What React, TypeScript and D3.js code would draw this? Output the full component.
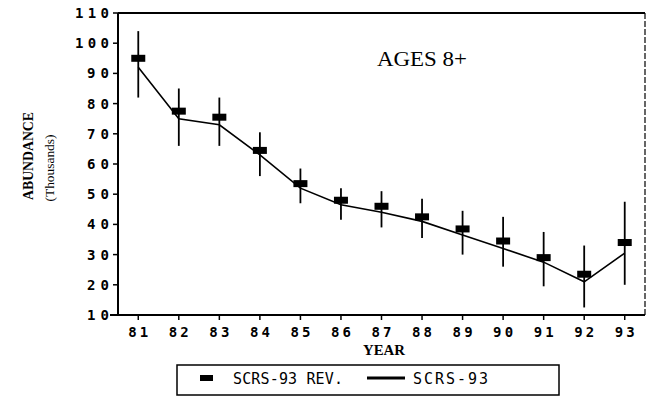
import React from "react";
import * as d3 from "d3";

const years = [81, 82, 83, 84, 85, 86, 87, 88, 89, 90, 91, 92, 93];
const revEstimate = [95, 77.5, 75.5, 64.5, 53.5, 48, 46, 42.5, 38.5, 34.5, 29, 23.5, 34];
const revLow = [82, 66, 66, 56, 47, 41.5, 39, 35.5, 30, 26, 19.5, 12.5, 20];
const revHigh = [104, 85, 82, 70.5, 58.5, 52, 51, 48.5, 44.5, 42.5, 37.5, 33, 47.5];
const scrs93 = [92, 75, 73, 63, 52, 46.5, 44, 41, 36.5, 32, 27.5, 21, 30.5];
const yTicks = [10, 20, 30, 40, 50, 60, 70, 80, 90, 100, 110];

const W = 649;
const H = 397;
const left = 118, right = 645, top = 13, bottom = 315;

export default function App() {
  const x = d3.scaleLinear().domain([80.5, 93.5]).range([left, right]);
  const y = d3.scaleLinear().domain([10, 110]).range([bottom, top]);
  const line = d3
    .line<number>()
    .x((_, i) => x(years[i]))
    .y((d) => y(d));
  const mono = "'DejaVu Sans Mono', monospace";
  const serif = "'Liberation Serif', 'DejaVu Serif', serif";
  return (
    <svg
      width={W}
      height={H}
      style={{ position: "absolute", left: 0, top: 0, background: "#fff" }}
    >
      <rect x={0} y={0} width={W} height={H} fill="#fff" />
      {/* frame */}
      <line x1={left} y1={top} x2={right} y2={top} stroke="#000" strokeWidth={2} />
      <line x1={right} y1={top} x2={right} y2={bottom} stroke="#000" strokeWidth={1.2} strokeDasharray="6 2" />
      <line x1={left} y1={top} x2={left} y2={bottom} stroke="#000" strokeWidth={2} />
      <line x1={left - 8} y1={bottom} x2={right} y2={bottom} stroke="#000" strokeWidth={2} />
      {/* y ticks */}
      {yTicks.map((t) => (
        <g key={t}>
          <line x1={left - 5} x2={left} y1={y(t)} y2={y(t)} stroke="#000" strokeWidth={1.5} />
          <text
            x={109}
            y={y(t) + 5}
            textAnchor="end"
            fontFamily={mono}
            fontWeight="bold"
            fontSize={14}
            textLength={t >= 100 ? 34 : 22}
            lengthAdjust="spacing"
          >
            {t}
          </text>
        </g>
      ))}
      {/* x ticks */}
      {years.map((yr) => (
        <g key={yr}>
          <line x1={x(yr)} x2={x(yr)} y1={bottom} y2={bottom + 5} stroke="#000" strokeWidth={1.5} />
          <text
            x={x(yr)}
            y={337}
            textAnchor="middle"
            fontFamily={mono}
            fontWeight="bold"
            fontSize={14}
            textLength={20}
            lengthAdjust="spacing"
          >
            {yr}
          </text>
        </g>
      ))}
      {/* axis titles */}
      <text x={384} y={355} textAnchor="middle" fontFamily={serif} fontWeight="bold" fontSize={15} textLength={42} lengthAdjust="spacingAndGlyphs">
        YEAR
      </text>
      <text
        transform="translate(33,156) rotate(-90)"
        textAnchor="middle"
        fontFamily={serif}
        fontWeight="bold"
        fontSize={14}
        textLength={88}
        lengthAdjust="spacingAndGlyphs"
      >
        ABUNDANCE
      </text>
      <text
        transform="translate(54,168) rotate(-90)"
        textAnchor="middle"
        fontFamily={serif}
        fontSize={13}
        textLength={67}
        lengthAdjust="spacingAndGlyphs"
      >
        (Thousands)
      </text>
      <text x={377} y={66} fontFamily={serif} fontSize={20} textLength={90} lengthAdjust="spacingAndGlyphs">
        AGES 8+
      </text>
      {/* SCRS-93 line */}
      <path d={line(scrs93) || ""} fill="none" stroke="#000" strokeWidth={1.6} />
      {/* error bars */}
      {years.map((yr, i) => (
        <line
          key={"e" + yr}
          x1={x(yr)}
          x2={x(yr)}
          y1={y(revLow[i])}
          y2={y(revHigh[i])}
          stroke="#000"
          strokeWidth={1.8}
        />
      ))}
      {/* revised estimates */}
      {years.map((yr, i) => (
        <rect
          key={"r" + yr}
          x={x(yr) - 7}
          y={y(revEstimate[i]) - 3.5}
          width={14}
          height={7}
          fill="#000"
        />
      ))}
      {/* legend */}
      <rect x={177} y={365} width={382} height={30} fill="none" stroke="#000" strokeWidth={1.5} />
      <rect x={200} y={375} width={13} height={6} fill="#000" />
      <text x={233} y={384} fontFamily={mono} fontSize={15} textLength={110} lengthAdjust="spacing">
        SCRS-93 REV.
      </text>
      <line x1={367} x2={405} y1={378} y2={378} stroke="#000" strokeWidth={3} />
      <text x={413} y={384} fontFamily={mono} fontSize={15} textLength={75} lengthAdjust="spacing">
        SCRS-93
      </text>
    </svg>
  );
}
